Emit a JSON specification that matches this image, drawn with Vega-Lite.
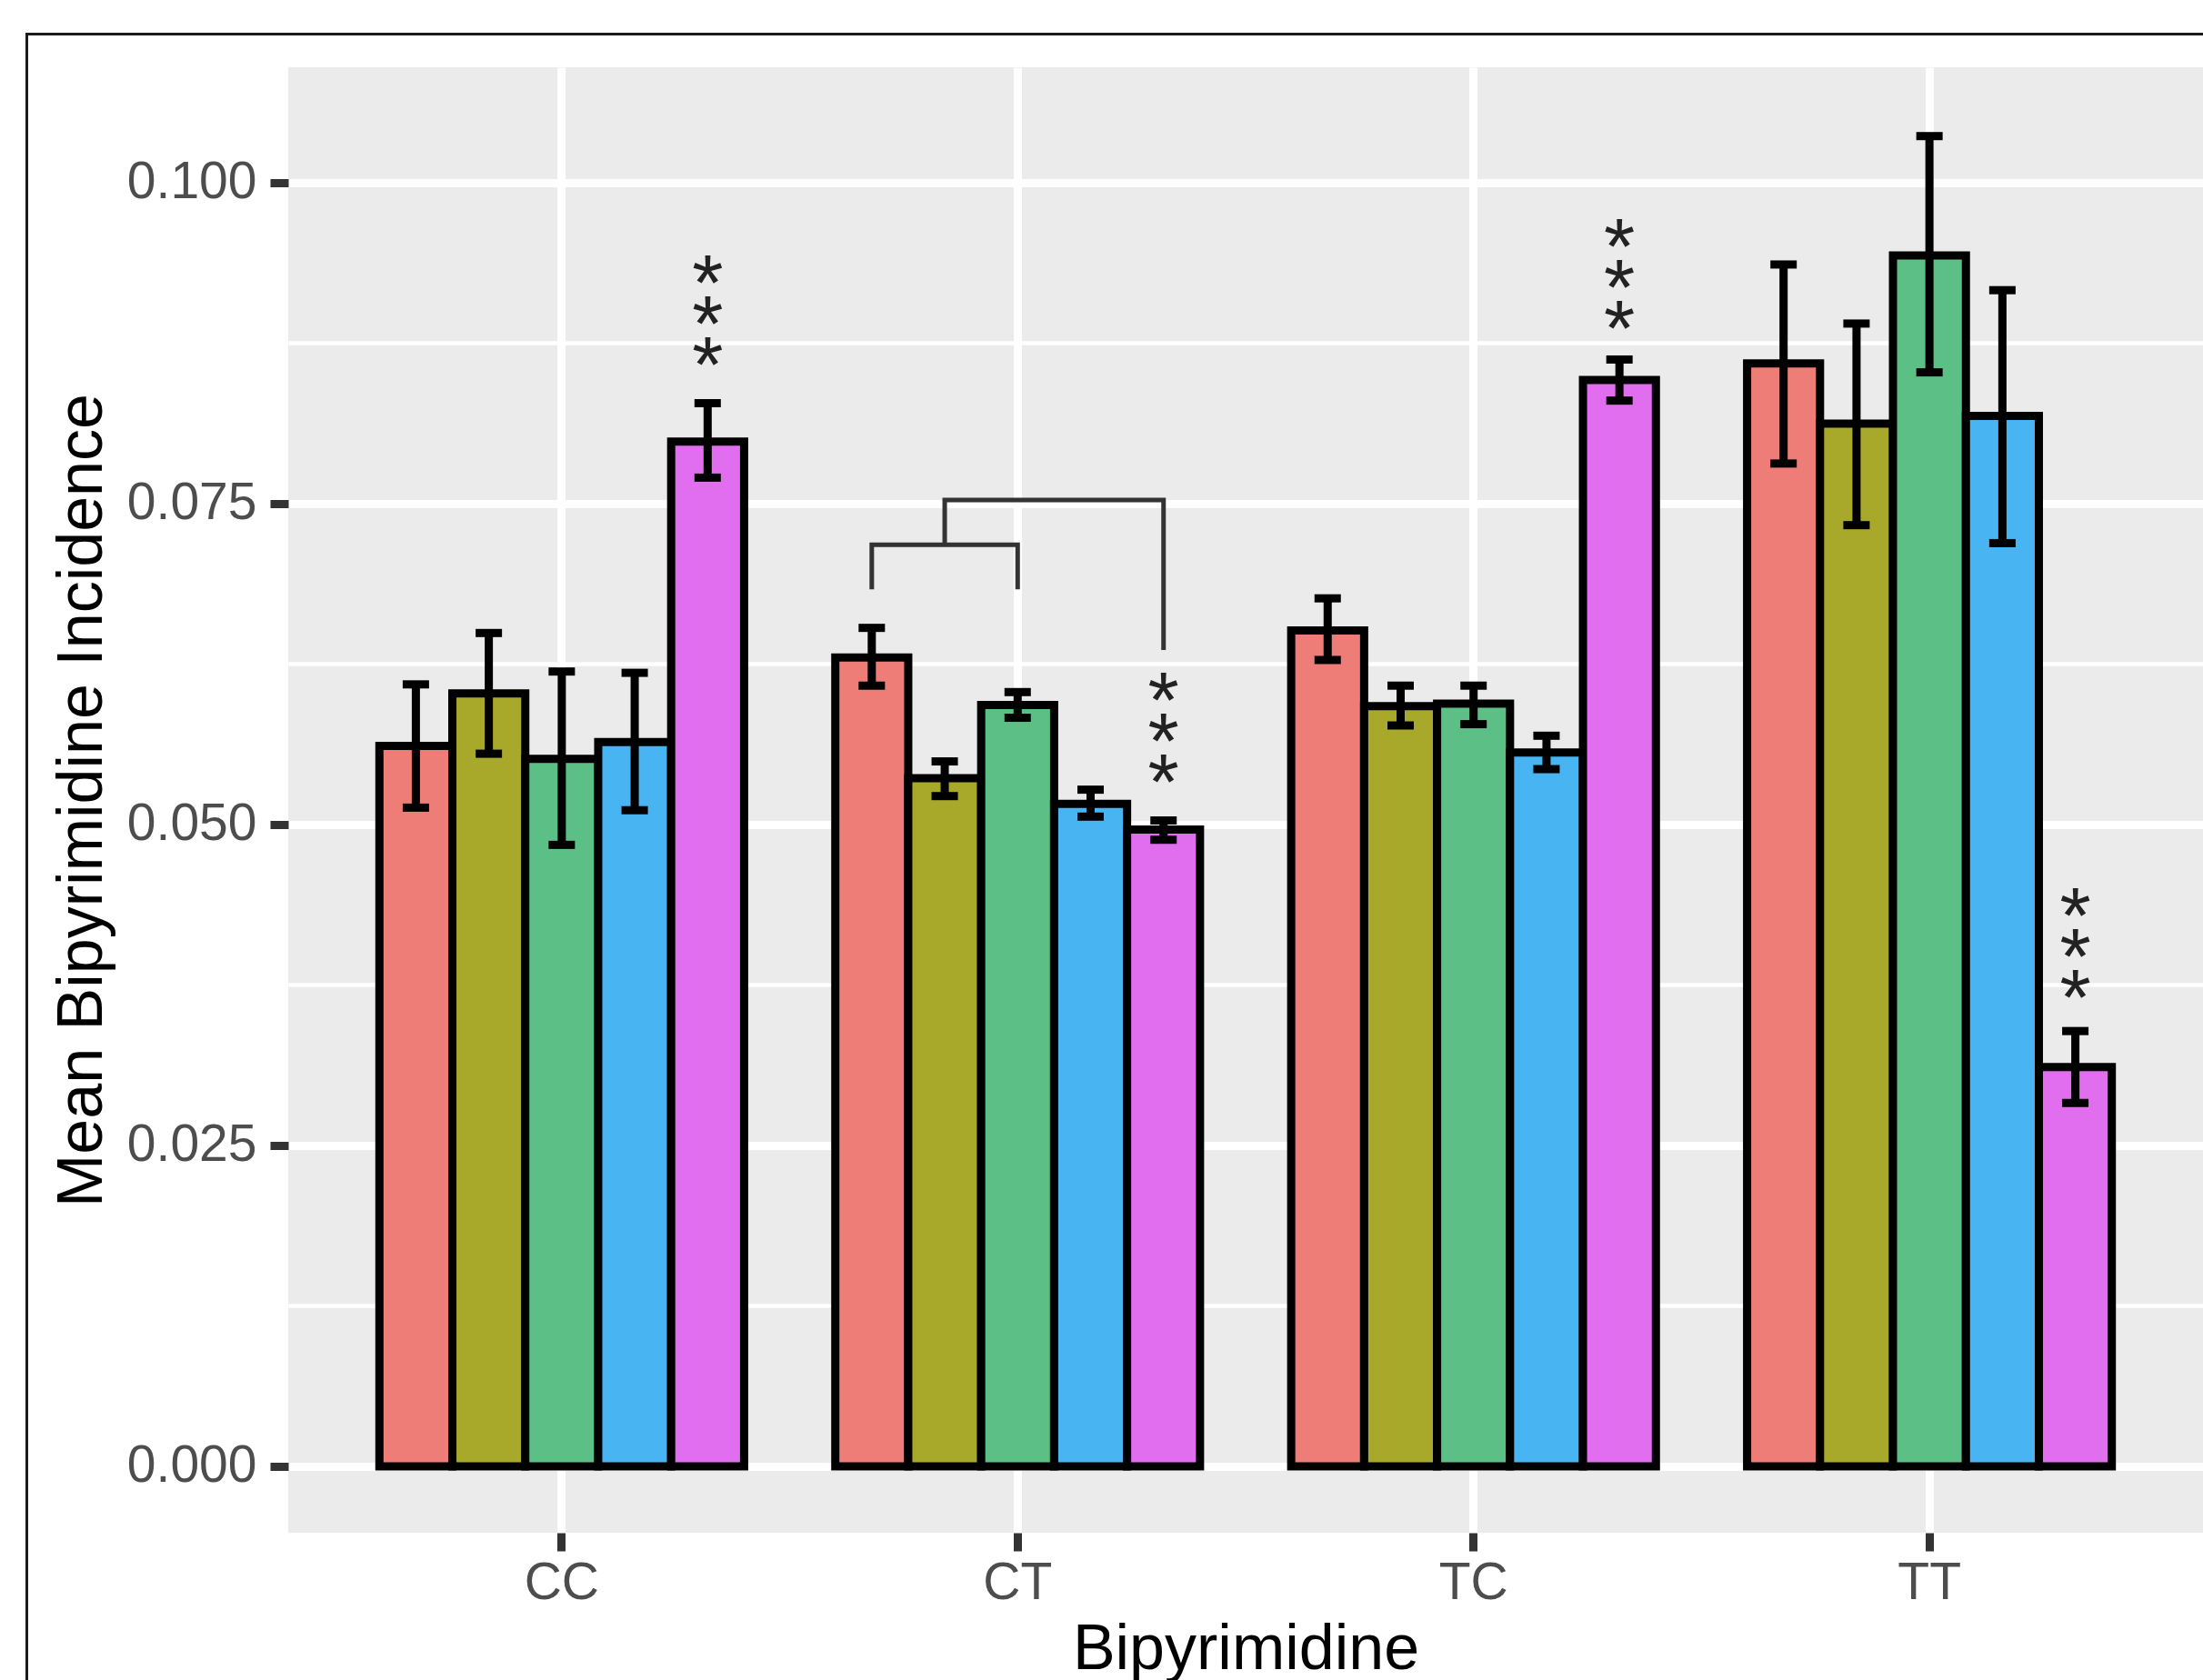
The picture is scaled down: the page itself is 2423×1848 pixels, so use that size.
{
  "$schema": "https://vega.github.io/schema/vega-lite/v6.json",
  "width": 2106,
  "height": 1612,
  "autosize": {"type": "none"},
  "padding": {"left": 317, "top": 74, "right": 0, "bottom": 162},
  "background": "white",
  "config": {
    "view": {"fill": "#EBEBEB", "stroke": null},
    "font": "Liberation Sans",
    "axis": {
      "labelFont": "Liberation Sans",
      "titleFont": "Liberation Sans",
      "titleFontWeight": "normal",
      "titleColor": "#000000",
      "labelColor": "#4D4D4D",
      "labelFontSize": 57,
      "titleFontSize": 70,
      "tickColor": "#333333",
      "tickWidth": 9,
      "tickSize": 20,
      "domain": false,
      "gridColor": "#FFFFFF",
      "gridWidth": 9
    }
  },
  "datasets": {
    "bars": [
      {"dimer": "CC", "group": "G1", "mean": 0.0561, "lo": 0.0513, "hi": 0.0609},
      {"dimer": "CC", "group": "G2", "mean": 0.0602, "lo": 0.0555, "hi": 0.0649},
      {"dimer": "CC", "group": "G3", "mean": 0.0551, "lo": 0.0484, "hi": 0.0619},
      {"dimer": "CC", "group": "G4", "mean": 0.0564, "lo": 0.0511, "hi": 0.0618},
      {"dimer": "CC", "group": "G5", "mean": 0.0798, "lo": 0.0770, "hi": 0.0828},
      {"dimer": "CT", "group": "G1", "mean": 0.0630, "lo": 0.0608, "hi": 0.0653},
      {"dimer": "CT", "group": "G2", "mean": 0.0536, "lo": 0.0522, "hi": 0.0549},
      {"dimer": "CT", "group": "G3", "mean": 0.0593, "lo": 0.0583, "hi": 0.0603},
      {"dimer": "CT", "group": "G4", "mean": 0.0516, "lo": 0.0506, "hi": 0.0527},
      {"dimer": "CT", "group": "G5", "mean": 0.0496, "lo": 0.0488, "hi": 0.0503},
      {"dimer": "TC", "group": "G1", "mean": 0.0651, "lo": 0.0628, "hi": 0.0676},
      {"dimer": "TC", "group": "G2", "mean": 0.0592, "lo": 0.0577, "hi": 0.0608},
      {"dimer": "TC", "group": "G3", "mean": 0.0594, "lo": 0.0578, "hi": 0.0608},
      {"dimer": "TC", "group": "G4", "mean": 0.0556, "lo": 0.0543, "hi": 0.0569},
      {"dimer": "TC", "group": "G5", "mean": 0.0846, "lo": 0.0830, "hi": 0.0862},
      {"dimer": "TT", "group": "G1", "mean": 0.0859, "lo": 0.0781, "hi": 0.0936},
      {"dimer": "TT", "group": "G2", "mean": 0.0812, "lo": 0.0733, "hi": 0.0890},
      {"dimer": "TT", "group": "G3", "mean": 0.0943, "lo": 0.0852, "hi": 0.1036},
      {"dimer": "TT", "group": "G4", "mean": 0.0818, "lo": 0.0719, "hi": 0.0916},
      {"dimer": "TT", "group": "G5", "mean": 0.0311, "lo": 0.0283, "hi": 0.0339}
    ],
    "stars": [
      {"dimer": "CC", "group": "G5", "pos": 0.0902, "label": "*\n*\n*"},
      {"dimer": "CT", "group": "G5", "pos": 0.0577, "label": "*\n*\n*"},
      {"dimer": "TC", "group": "G5", "pos": 0.0930, "label": "*\n*\n*"},
      {"dimer": "TT", "group": "G5", "pos": 0.0409, "label": "*\n*\n*"}
    ],
    "bracket": [
      {"dimer": "CT", "group": "G1", "val": 0.0683, "seg": "inner", "step": 1},
      {"dimer": "CT", "group": "G1", "val": 0.07177, "seg": "inner", "step": 2},
      {"dimer": "CT", "group": "G3", "val": 0.07177, "seg": "inner", "step": 3},
      {"dimer": "CT", "group": "G3", "val": 0.0683, "seg": "inner", "step": 4},
      {"dimer": "CT", "group": "G2", "val": 0.07177, "seg": "outer", "step": 1},
      {"dimer": "CT", "group": "G2", "val": 0.07526, "seg": "outer", "step": 2},
      {"dimer": "CT", "group": "G5", "val": 0.07526, "seg": "outer", "step": 3},
      {"dimer": "CT", "group": "G5", "val": 0.06358, "seg": "outer", "step": 4}
    ]
  },
  "layer": [
    {
      "data": {"name": "bars"},
      "mark": {"type": "bar", "stroke": "#000000", "strokeWidth": 9, "opacity": 1},
      "encoding": {
        "x": {
          "field": "dimer", "type": "nominal",
          "scale": {"type": "band", "domain": ["CC", "CT", "TC", "TT"], "paddingInner": 0.2, "paddingOuter": 0.2},
          "axis": {"title": "Bipyrimidine", "labelAngle": 0, "bandPosition": 0.5, "grid": true, "labelPadding": 7, "titlePadding": 11}
        },
        "xOffset": {
          "field": "group", "type": "nominal",
          "scale": {"type": "band", "domain": ["G1", "G2", "G3", "G4", "G5"], "paddingInner": 0, "paddingOuter": 0}
        },
        "y": {
          "field": "mean", "type": "quantitative",
          "scale": {"domain": [-0.00517, 0.10896], "nice": false, "zero": false},
          "axis": {"title": "Mean Bipyrimidine Incidence", "values": [0, 0.025, 0.05, 0.075, 0.1], "format": ".3f", "grid": true, "labelPadding": 15, "titlePadding": 13}
        },
        "color": {
          "field": "group", "type": "nominal",
          "scale": {"domain": ["G1", "G2", "G3", "G4", "G5"], "range": ["#ED7D76", "#A8A82A", "#5CC086", "#48B4F2", "#E06EEE"]},
          "legend": null
        }
      }
    },
    {
      "data": {"name": "bars"},
      "mark": {"type": "rule", "color": "#000000", "strokeWidth": 9},
      "encoding": {
        "x": {"field": "dimer", "type": "nominal", "scale": {"type": "band", "domain": ["CC", "CT", "TC", "TT"], "paddingInner": 0.2, "paddingOuter": 0.2}, "axis": null},
        "xOffset": {"field": "group", "type": "nominal", "scale": {"type": "band", "domain": ["G1", "G2", "G3", "G4", "G5"], "paddingInner": 0, "paddingOuter": 0}},
        "y": {"field": "lo", "type": "quantitative", "scale": {"domain": [-0.00517, 0.10896], "nice": false, "zero": false}, "axis": null},
        "y2": {"field": "hi"}
      }
    },
    {
      "data": {"name": "bars"},
      "mark": {"type": "tick", "color": "#000000", "size": 29, "thickness": 9, "opacity": 1},
      "encoding": {
        "x": {"field": "dimer", "type": "nominal", "scale": {"type": "band", "domain": ["CC", "CT", "TC", "TT"], "paddingInner": 0.2, "paddingOuter": 0.2}, "axis": null},
        "xOffset": {"field": "group", "type": "nominal", "scale": {"type": "band", "domain": ["G1", "G2", "G3", "G4", "G5"], "paddingInner": 0, "paddingOuter": 0}},
        "y": {"field": "hi", "type": "quantitative", "scale": {"domain": [-0.00517, 0.10896], "nice": false, "zero": false}, "axis": null}
      }
    },
    {
      "data": {"name": "bars"},
      "mark": {"type": "tick", "color": "#000000", "size": 29, "thickness": 9, "opacity": 1},
      "encoding": {
        "x": {"field": "dimer", "type": "nominal", "scale": {"type": "band", "domain": ["CC", "CT", "TC", "TT"], "paddingInner": 0.2, "paddingOuter": 0.2}, "axis": null},
        "xOffset": {"field": "group", "type": "nominal", "scale": {"type": "band", "domain": ["G1", "G2", "G3", "G4", "G5"], "paddingInner": 0, "paddingOuter": 0}},
        "y": {"field": "lo", "type": "quantitative", "scale": {"domain": [-0.00517, 0.10896], "nice": false, "zero": false}, "axis": null}
      }
    },
    {
      "data": {"name": "stars"},
      "mark": {"type": "text", "fontSize": 88, "lineHeight": 45, "lineBreak": "\n", "baseline": "middle", "align": "center", "dy": -24, "color": "#222222", "font": "Liberation Sans"},
      "encoding": {
        "x": {"field": "dimer", "type": "nominal", "scale": {"type": "band", "domain": ["CC", "CT", "TC", "TT"], "paddingInner": 0.2, "paddingOuter": 0.2}, "axis": null},
        "xOffset": {"field": "group", "type": "nominal", "scale": {"type": "band", "domain": ["G1", "G2", "G3", "G4", "G5"], "paddingInner": 0, "paddingOuter": 0}},
        "y": {
          "field": "pos", "type": "quantitative",
          "scale": {"domain": [-0.00517, 0.10896], "nice": false, "zero": false},
          "axis": {"orient": "right", "values": [0.0125, 0.0375, 0.0625, 0.0875], "grid": true, "gridWidth": 4.5, "labels": false, "ticks": false, "domain": false, "title": null}
        },
        "text": {"field": "label", "type": "nominal"}
      }
    },
    {
      "data": {"name": "bracket"},
      "mark": {"type": "line", "color": "#333333", "strokeWidth": 5, "strokeJoin": "miter", "strokeCap": "butt"},
      "encoding": {
        "x": {"field": "dimer", "type": "nominal", "scale": {"type": "band", "domain": ["CC", "CT", "TC", "TT"], "paddingInner": 0.2, "paddingOuter": 0.2}, "axis": null},
        "xOffset": {"field": "group", "type": "nominal", "scale": {"type": "band", "domain": ["G1", "G2", "G3", "G4", "G5"], "paddingInner": 0, "paddingOuter": 0}},
        "y": {"field": "val", "type": "quantitative", "scale": {"domain": [-0.00517, 0.10896], "nice": false, "zero": false}, "axis": null},
        "detail": {"field": "seg", "type": "nominal"},
        "order": {"field": "step", "type": "quantitative"}
      }
    },
    {
      "data": {"name": "stars"},
      "mark": {"type": "point", "opacity": 0},
      "encoding": {
        "x": {
          "field": "pos", "type": "quantitative",
          "scale": {"domain": [0, 1], "range": [-288, 2200], "nice": false, "zero": false},
          "axis": {"orient": "top", "offset": 37, "domain": true, "domainColor": "#1A1A1A", "domainWidth": 3, "domainCap": "square", "ticks": false, "labels": false, "grid": false, "title": null}
        },
        "y": {
          "field": "pos", "type": "quantitative",
          "scale": {"domain": [0, 1], "range": [1900, -37], "nice": false, "zero": false},
          "axis": {"orient": "left", "offset": 288, "domain": true, "domainColor": "#1A1A1A", "domainWidth": 3, "domainCap": "square", "ticks": false, "labels": false, "grid": false, "title": null}
        }
      }
    }
  ],
  "resolve": {
    "scale": {"x": "independent", "y": "independent"},
    "axis": {"x": "independent", "y": "independent"}
  }
}
